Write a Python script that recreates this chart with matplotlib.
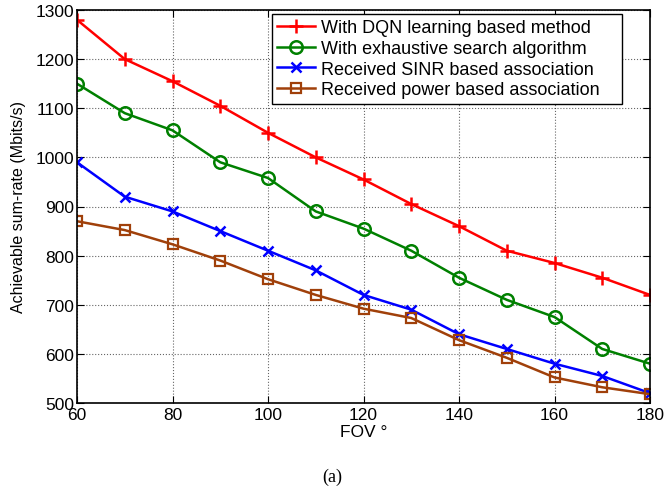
import matplotlib
matplotlib.use('Agg')
import matplotlib.pyplot as plt

fov = [60, 70, 80, 90, 100, 110, 120, 130, 140, 150, 160, 170, 180]
dqn = [1280, 1200, 1155, 1105, 1050, 1000, 955, 905, 860, 810, 785, 755, 720]
exhaustive = [1150, 1090, 1055, 990, 958, 890, 855, 810, 755, 710, 675, 610, 580]
sinr = [990, 920, 890, 850, 810, 770, 720, 690, 640, 610, 580, 555, 520]
power = [870, 852, 823, 790, 752, 720, 692, 673, 628, 592, 552, 532, 518]

labels = ['With DQN learning based method',
          'With exhaustive search algorithm',
          'Received SINR based association',
          'Received power based association']

plt.rcParams['font.family'] = ['Liberation Sans', 'DejaVu Sans']

fig = plt.figure(figsize=(6.65, 4.89), dpi=100)
# axes box: left 77px, right 650px, top 11px, bottom 404px
ax = fig.add_axes([77 / 665, 1 - 404 / 489, 573 / 665, 393 / 489])

ax.plot(fov, dqn, '-', color='red', marker='+', ms=10, mew=1.8, lw=1.8, label=labels[0])
ax.plot(fov, exhaustive, '-', color='green', marker='o', ms=9, mew=1.8, mfc='none', lw=1.8, label=labels[1])
ax.plot(fov, sinr, '-', color='blue', marker='x', ms=6.5, mew=1.8, lw=1.8, label=labels[2])
ax.plot(fov, power, '-', color='#a0400a', marker='s', ms=7.5, mew=1.6, mfc='none', lw=1.8, label=labels[3])

ax.set_xlim(60, 180)
ax.set_ylim(500, 1300)
ax.set_xticks(range(60, 181, 20))
ax.set_yticks(range(500, 1301, 100))
ax.grid(True, color='black', linestyle=':', linewidth=0.8, alpha=0.6)
ax.tick_params(direction='in', top=True, right=True, labelsize=12.5, length=5)
ax.tick_params(axis='x', pad=3)
ax.tick_params(axis='y', pad=2)
for s in ax.spines.values():
    s.set_linewidth(1.2)

ax.set_xlabel('FOV °', fontsize=12.5, labelpad=1)
ax.set_ylabel('Achievable sum-rate (Mbits/s)', fontsize=11.5, labelpad=7)

# legend box in the reference: x 272..622 px, y 15..105 px
lx0 = (272 - 77) / 573
lw_ = (622 - 272) / 573
ly1 = 1 - (15 - 11) / 393
lh = 90 / 393
leg = ax.legend(loc='upper left', bbox_to_anchor=(lx0, ly1 - lh, lw_, lh), mode='expand',
                fontsize=13, frameon=True, fancybox=False, framealpha=1,
                edgecolor='black', handlelength=2.1, borderpad=0.3,
                labelspacing=0.2, handletextpad=0.3, borderaxespad=0)
leg.get_frame().set_linewidth(1.0)

fig.text(0.5, 1 - 477 / 489, '(a)', ha='center', va='center', fontsize=13,
         family=['Liberation Serif', 'DejaVu Serif'])

fig.savefig('out.png', dpi=100)
